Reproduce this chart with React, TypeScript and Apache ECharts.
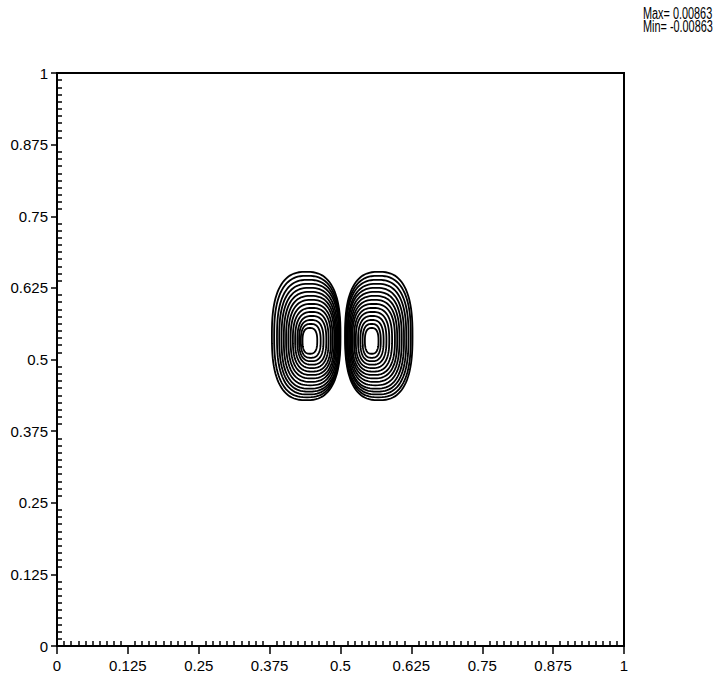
import React, { useEffect, useRef } from "react";
import * as echarts from "echarts";

// Axis ticks
const tickValues = [0, 0.125, 0.25, 0.375, 0.5, 0.625, 0.75, 0.875, 1];
const headerLines = ["Max= 0.00863", "Min= -0.00863"];

// Contour levels of the left (negative) lobe: [xLeft, xRight, yBottom, yTop]
const leftLobe: number[][] = [
  [0.379, 0.500, 0.429, 0.653],
  [0.383, 0.499, 0.434, 0.646],
  [0.388, 0.498, 0.439, 0.639],
  [0.392, 0.497, 0.444, 0.632],
  [0.396, 0.495, 0.449, 0.625],
  [0.400, 0.493, 0.455, 0.618],
  [0.404, 0.491, 0.461, 0.611],
  [0.408, 0.489, 0.467, 0.604],
  [0.412, 0.486, 0.473, 0.597],
  [0.416, 0.483, 0.479, 0.590],
  [0.420, 0.479, 0.485, 0.583],
  [0.424, 0.475, 0.491, 0.576],
  [0.427, 0.470, 0.497, 0.569],
  [0.430, 0.465, 0.503, 0.562],
  [0.433, 0.459, 0.510, 0.555],
];

// Contour levels of the right (positive) lobe: [xLeft, xRight, yBottom, yTop]
const rightLobe: number[][] = [
  [0.508, 0.627, 0.429, 0.653],
  [0.509, 0.624, 0.434, 0.646],
  [0.510, 0.620, 0.439, 0.639],
  [0.512, 0.616, 0.444, 0.632],
  [0.513, 0.612, 0.449, 0.625],
  [0.515, 0.608, 0.455, 0.618],
  [0.517, 0.604, 0.461, 0.611],
  [0.519, 0.600, 0.467, 0.604],
  [0.521, 0.596, 0.473, 0.597],
  [0.524, 0.591, 0.479, 0.590],
  [0.527, 0.586, 0.485, 0.583],
  [0.531, 0.581, 0.491, 0.576],
  [0.535, 0.576, 0.497, 0.569],
  [0.539, 0.571, 0.503, 0.562],
  [0.543, 0.567, 0.510, 0.555],
];

const FONT = "'Liberation Sans', Arial, sans-serif";

const fmt = (v: number) => {
  const t = tickValues.find((x) => Math.abs(x - v) < 1e-9);
  return t === undefined ? "" : String(t);
};

export default function App() {
  const ref = useRef<HTMLDivElement>(null);
  useEffect(() => {
    if (!ref.current) return;
    const chart = echarts.init(ref.current, null, { renderer: "svg" });
    // contour outline: rounded (superelliptic) closed curve inside the data box
    const renderItem = (params: any, api: any) => {
      const p1 = api.coord([api.value(0), api.value(3)]);
      const p2 = api.coord([api.value(1), api.value(2)]);
      const cx = (p1[0] + p2[0]) / 2;
      const cy = (p1[1] + p2[1]) / 2;
      const a = Math.abs(p2[0] - p1[0]) / 2;
      const b = Math.abs(p2[1] - p1[1]) / 2;
      const n = 2.6;
      const pts: number[][] = [];
      for (let i = 0; i < 96; i++) {
        const t = (i / 96) * Math.PI * 2;
        const c = Math.cos(t);
        const s = Math.sin(t);
        pts.push([
          cx + a * Math.sign(c) * Math.pow(Math.abs(c), 2 / n),
          cy + b * Math.sign(s) * Math.pow(Math.abs(s), 2 / n),
        ]);
      }
      return {
        type: "polygon",
        shape: { points: pts },
        style: { fill: "none", stroke: "#000", lineWidth: 1.8 },
      };
    };
    const axisCommon = { type: "value", min: 0, max: 1, interval: 0.125 };
    chart.setOption({
      animation: false,
      backgroundColor: "#fff",
      grid: {
        left: 57,
        top: 73,
        right: 97,
        bottom: 36,
        show: true,
        borderColor: "#000",
        borderWidth: 2,
        containLabel: false,
      },
      xAxis: [
        {
          ...axisCommon,
          position: "bottom",
          axisLine: { show: true, lineStyle: { color: "#000", width: 2 } },
          axisTick: { show: true, inside: false, length: 8, lineStyle: { color: "#000", width: 1.5 } },
          minorTick: { show: false },
          axisLabel: { color: "#000", fontSize: 15, fontFamily: FONT, margin: 12, formatter: fmt },
          splitLine: { show: false },
        },
        {
          ...axisCommon,
          position: "bottom",
          axisLine: { show: false },
          axisTick: { show: false, inside: true },
          minorTick: { show: true, splitNumber: 10, length: 5, lineStyle: { color: "#000", width: 1.5 } },
          axisLabel: { show: false },
          splitLine: { show: false },
        },
      ],
      yAxis: [
        {
          ...axisCommon,
          position: "left",
          axisLine: { show: true, lineStyle: { color: "#000", width: 2 } },
          axisTick: { show: true, inside: false, length: 6, lineStyle: { color: "#000", width: 1.5 } },
          minorTick: { show: false },
          axisLabel: { color: "#000", fontSize: 15, fontFamily: FONT, margin: 9, formatter: fmt },
          splitLine: { show: false },
        },
        {
          ...axisCommon,
          position: "left",
          axisLine: { show: false },
          axisTick: { show: false, inside: true },
          minorTick: { show: true, splitNumber: 10, length: 5, lineStyle: { color: "#000", width: 1.5 } },
          axisLabel: { show: false },
          splitLine: { show: false },
        },
      ],
      graphic: headerLines.map((t, i) => ({
        type: "text",
        x: 643,
        y: 6 + i * 13,
        scaleX: 0.68,
        style: { text: t, fill: "#000", font: `16px ${FONT}`, textVerticalAlign: "top" },
      })),
      series: [
        {
          name: "negative",
          type: "custom",
          xAxisIndex: 0,
          yAxisIndex: 0,
          renderItem,
          encode: { x: [0, 1], y: [2, 3] },
          data: leftLobe,
          clip: true,
        },
        {
          name: "positive",
          type: "custom",
          xAxisIndex: 0,
          yAxisIndex: 0,
          renderItem,
          encode: { x: [0, 1], y: [2, 3] },
          data: rightLobe,
          clip: true,
        },
      ],
    });
    return () => chart.dispose();
  }, []);
  return (
    <div
      ref={ref}
      style={{ position: "fixed", left: 0, top: 0, width: 721, height: 682 }}
    />
  );
}
